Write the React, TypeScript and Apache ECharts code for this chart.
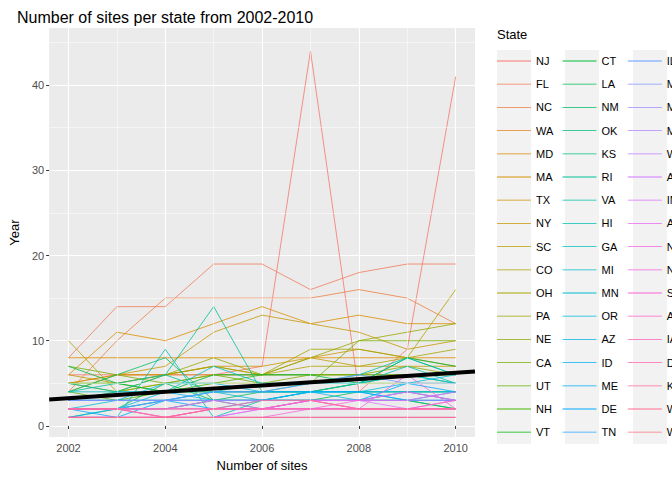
import React, { useEffect, useRef } from "react";
import * as echarts from "echarts";

const years = [2002, 2003, 2004, 2005, 2006, 2007, 2008, 2009, 2010];
const states = ["NJ","FL","NC","WA","MD","MA","TX","NY","SC","CO","OH","PA","NE","CA","UT","NH","VT","CT","LA","NM","OK","KS","RI","VA","HI","GA","MI","MN","OR","AZ","ID","ME","DE","TN","IL","MO","MT","MS","WY","AR","IN","AL","ND","NV","SD","AK","IA","DC","KY","WI","WV"];
const siteCounts = [
  [6,6,6,6,7,44,4,9,41],
  [8,14,14,19,19,16,18,19,19],
  [4,10,15,15,15,15,16,15,12],
  [5,6,6,6,6,6,6,6,6],
  [8,8,8,8,8,8,8,8,8],
  [6,11,10,12,14,12,13,12,12],
  [5,6,6,7,7,8,9,8,7],
  [4,6,7,11,13,12,11,9,10],
  [6,5,6,7,6,8,7,7,7],
  [10,4,5,6,6,7,7,8,16],
  [5,5,6,7,6,9,9,8,9],
  [5,4,6,8,6,8,10,11,12],
  [3,4,5,5,5,6,6,7,6],
  [7,6,5,6,5,5,10,10,10],
  [4,3,4,4,4,4,5,5,5],
  [5,5,4,5,6,6,6,6,6],
  [2,2,2,3,3,3,3,3,2],
  [7,5,4,6,6,6,5,8,7],
  [1,2,5,3,3,3,4,4,4],
  [4,6,8,3,4,4,5,6,5],
  [3,3,3,3,3,3,3,3,3],
  [2,2,3,3,2,3,3,3,2],
  [5,4,6,14,4,5,5,8,6],
  [4,5,6,4,5,5,6,8,6],
  [1,1,9,1,3,4,5,7,5],
  [4,4,4,4,4,4,4,4,4],
  [3,4,4,7,5,5,5,6,5],
  [2,3,3,4,3,4,4,4,4],
  [3,3,5,5,4,4,4,5,6],
  [2,2,4,3,3,4,3,4,3],
  [1,2,3,3,3,4,4,3,4],
  [3,3,3,4,4,4,4,3,3],
  [2,1,3,2,3,3,3,5,4],
  [3,3,3,3,3,3,3,3,3],
  [2,2,3,4,4,5,6,5,5],
  [2,2,2,3,3,3,3,4,3],
  [3,3,3,3,3,3,3,3,3],
  [2,2,2,2,2,2,2,2,2],
  [1,1,1,1,1,1,1,1,1],
  [1,1,1,1,2,2,2,2,2],
  [2,2,1,1,2,3,3,2,3],
  [2,2,2,3,2,3,3,3,4],
  [1,1,1,2,2,3,2,6,2],
  [1,1,1,1,1,2,3,4,3],
  [2,2,1,2,2,2,2,2,2],
  [1,1,1,2,2,3,2,2,3],
  [2,2,2,2,2,2,2,2,2],
  [1,1,1,1,1,1,1,1,1],
  [2,2,2,2,2,2,2,2,2],
  [2,2,1,2,3,3,2,2,2],
  [1,1,1,1,1,1,1,1,1],
];
const trendX = [2001.6, 2010.4];
const trendY = [3.1, 6.4];
const xTicks = [2002, 2004, 2006, 2008, 2010];
const xMinor = [2003, 2005, 2007, 2009];
const yTicks = [0, 10, 20, 30, 40];
const yMinor = [5, 15, 25, 35, 45];

function hcl(h: number, c = 100, l = 65): string {
  const Xn = 95.047, Yn = 100, Zn = 108.883;
  const d = Xn + 15 * Yn + 3 * Zn;
  const un = (4 * Xn) / d, vn = (9 * Yn) / d;
  const hr = (h * Math.PI) / 180;
  const u = c * Math.cos(hr), v = c * Math.sin(hr);
  const Y = Yn * Math.pow((l + 16) / 116, 3);
  const up = u / (13 * l) + un, vp = v / (13 * l) + vn;
  const X = (Y * 9 * up) / (4 * vp);
  const Z = (Y * (12 - 3 * up - 20 * vp)) / (4 * vp);
  const x = X / 100, y = Y / 100, z = Z / 100;
  const lin = [
    3.2406 * x - 1.5372 * y - 0.4986 * z,
    -0.9689 * x + 1.8758 * y + 0.0415 * z,
    0.0557 * x - 0.204 * y + 1.057 * z,
  ];
  return "#" + lin.map((cv) => {
    let g = cv <= 0.0031308 ? 12.92 * cv : 1.055 * Math.pow(cv, 1 / 2.4) - 0.055;
    g = Math.max(0, Math.min(1, g));
    return Math.round(g * 255).toString(16).padStart(2, "0");
  }).join("");
}

export default function App() {
  const ref = useRef<HTMLDivElement>(null);
  useEffect(() => {
    document.body.style.margin = "0";
    const chart = echarts.init(ref.current!, undefined, { renderer: "svg" });
    const n = states.length;
    const colors = states.map((_, i) => hcl(15 + (360 / n) * i));
    const series: any[] = [
      {
        name: "__grid",
        type: "line",
        data: [],
        z: 1,
        silent: true,
        markLine: {
          silent: true,
          symbol: "none",
          label: { show: false },
          lineStyle: { color: "#ffffff", width: 0.5, type: "solid" },
          data: [...xMinor.map((v) => ({ xAxis: v })), ...yMinor.map((v) => ({ yAxis: v }))],
        },
      },
      ...states.map((s, i) => ({
        name: s,
        type: "line",
        symbol: "none",
        z: 3,
        color: colors[i],
        lineStyle: { width: 0.8, color: colors[i] },
        data: years.map((y, j) => [y, siteCounts[i][j]]),
      })),
      {
        name: "__trend",
        type: "line",
        symbol: "none",
        z: 5,
        lineStyle: { width: 4, color: "#000" },
        data: trendX.map((x, i) => [x, trendY[i]]),
      },
    ];
    chart.setOption({
      animation: false,
      title: {
        text: "Number of sites per state from 2002-2010",
        left: 12, top: 4,
        textStyle: { fontSize: 16, fontWeight: "normal", color: "#000", fontFamily: "Liberation Sans" },
      },
      textStyle: { fontFamily: "Liberation Sans" },
      grid: { left: 38, right: 197, top: 28, bottom: 43, show: true, backgroundColor: "#EBEBEB", borderWidth: 0 },
      xAxis: {
        type: "value", min: 2001.6, max: 2010.4,
        name: "Number of sites", nameLocation: "middle", nameGap: 22,
        nameTextStyle: { fontSize: 13, color: "#000" },
        axisLine: { show: false },
        axisTick: { show: true, customValues: xTicks, length: 3, lineStyle: { color: "#333" } },
        axisLabel: { customValues: xTicks, color: "#4d4d4d", fontSize: 11, margin: 5, formatter: (v: number) => String(v) },
        splitLine: { show: true, lineStyle: { color: "#fff", width: 1.1 } },
      },
      yAxis: {
        type: "value", min: -1.3, max: 46.7,
        name: "Year", nameLocation: "middle", nameGap: 24,
        nameTextStyle: { fontSize: 13, color: "#000" },
        axisLine: { show: false },
        axisTick: { show: true, customValues: yTicks, length: 3, lineStyle: { color: "#333" } },
        axisLabel: { customValues: yTicks, color: "#4d4d4d", fontSize: 11, margin: 5 },
        splitLine: { show: true, lineStyle: { color: "#fff", width: 1.1 } },
      },
      legend: {
        data: states,
        orient: "vertical",
        left: 497, top: 54, height: 396,
        padding: 0,
        icon: "path://M0,0L0.01,0Z M0,6.6H34V7.4H0Z M0,14L0.01,14Z",
        itemWidth: 34, itemHeight: 14, itemGap: 9.2,
        itemStyle: { borderWidth: 0 },
        textStyle: { fontSize: 11, color: "#000", width: 20 },
        selectedMode: false,
      },
      graphic: [
        { type: "text", left: 497, top: 28, style: { text: "State", fontSize: 13, fill: "#000", fontFamily: "Liberation Sans" } },
        ...[497, 565, 633].map((x) => ({
          type: "rect", z: -1, shape: { x, y: 50, width: 34, height: 394 },
          style: { fill: "#F2F2F2" },
        })),
      ],
      series,
    });
    return () => chart.dispose();
  }, []);
  return <div ref={ref} style={{ width: 672, height: 480 }} />;
}
